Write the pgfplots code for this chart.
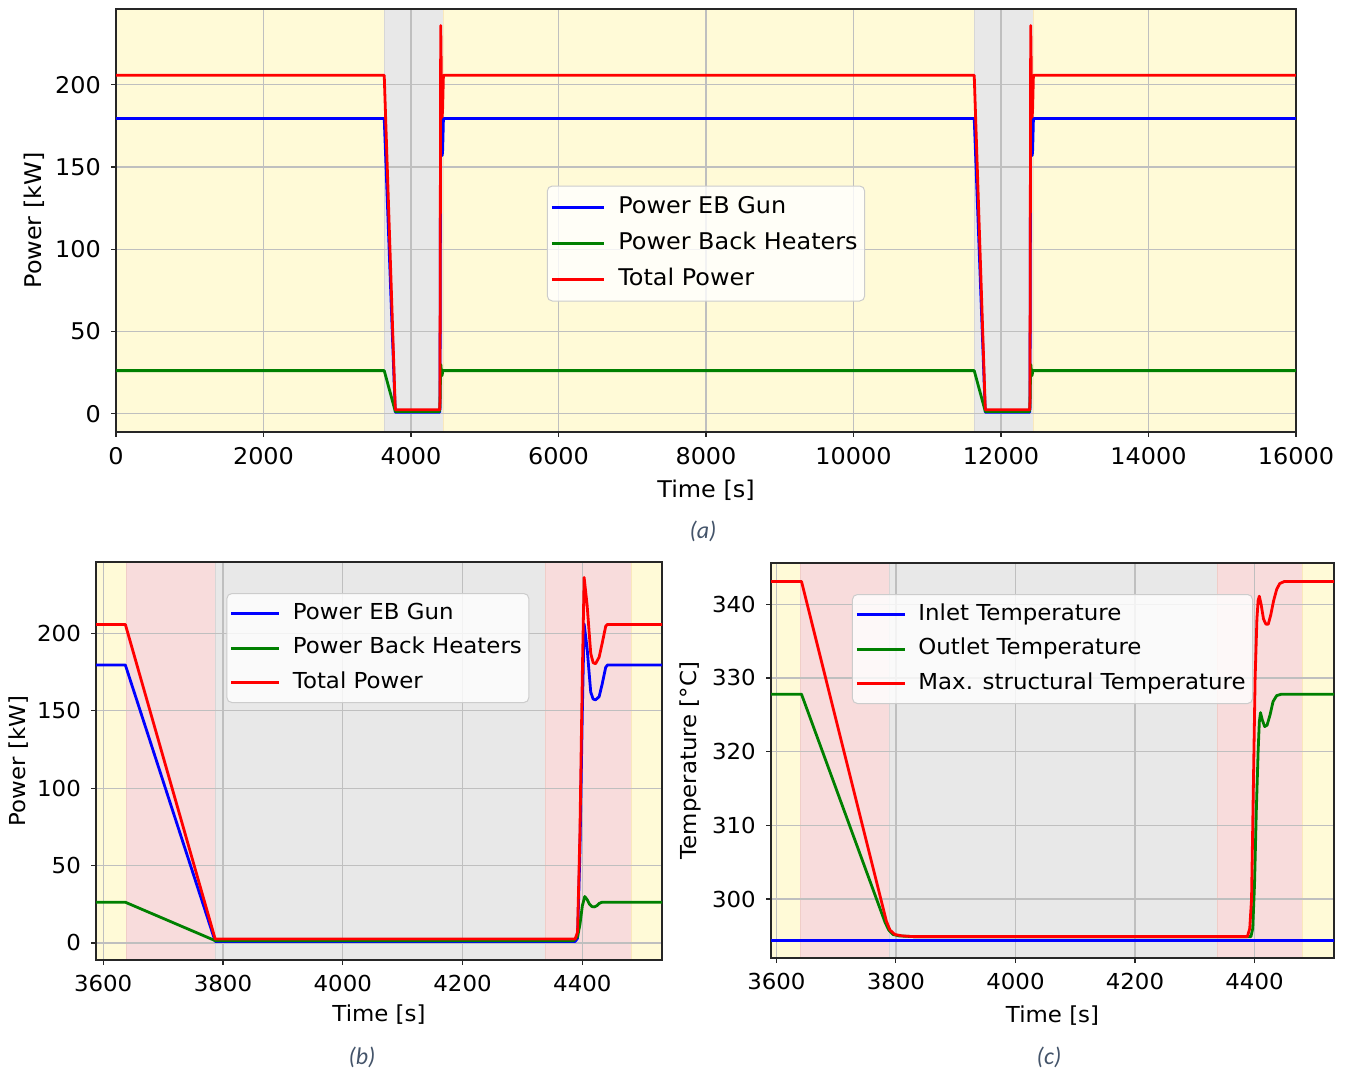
\documentclass[border=0pt]{standalone}
\usepackage{fontspec}
\setmainfont{DejaVu Sans}[FakeStretch=1.04]
\newfontfamily\capfont{Carlito}
\usepackage{pgfplots}
\usepackage{pgfplotstable}
\pgfplotsset{compat=1.18}

\definecolor{byel}{RGB}{255,250,215}
\definecolor{byeledge}{RGB}{250,232,188}
\definecolor{bred}{RGB}{248,220,220}
\definecolor{brededge}{RGB}{240,205,200}
\definecolor{bgry}{RGB}{232,232,232}
\definecolor{bgryedge}{RGB}{215,215,215}
\definecolor{mblue}{RGB}{0,0,255}
\definecolor{mgreen}{RGB}{0,128,0}
\definecolor{mred}{RGB}{255,0,0}
\definecolor{capc}{RGB}{68,84,106}

% ---------- power data (two cycles) ----------
\pgfplotstableread{
t P
0 179.5
3637 179.5
3787 1.0
4388 1.0
4392 3
4396 60
4400 150
4403 206
4408 190
4414 162
4418 157.5
4422 157
4428 159
4433 167
4439 178
4442 179.5
11637 179.5
11787 1.0
12388 1.0
12392 3
12396 60
12400 150
12403 206
12408 190
12414 162
12418 157.5
12422 157
12428 159
12433 167
12439 178
12442 179.5
16000 179.5
}\tblue
\pgfplotstableread{
t P
0 26.3
3637 26.3
3787 1.5
4385 1.5
4392 4
4396 12
4400 24
4404 30
4408 28
4412 25
4416 23.5
4420 23.3
4424 24
4428 25.5
4432 26.2
4436 26.3
11637 26.3
11787 1.5
12385 1.5
12392 4
12396 12
12400 24
12404 30
12408 28
12412 25
12416 23.5
12420 23.3
12424 24
12428 25.5
12432 26.2
12436 26.3
16000 26.3
}\tgreen
\pgfplotstableread{
t P
0 205.7
3637 205.7
3787 2.5
4388 2.5
4392 7
4396 72
4400 174
4403 236
4408 218
4414 187
4418 181
4422 180.3
4428 184.5
4433 193.3
4439 204.5
4442 205.7
11637 205.7
11787 2.5
12388 2.5
12392 7
12396 72
12400 174
12403 236
12408 218
12414 187
12418 181
12422 180.3
12428 184.5
12433 193.3
12439 204.5
12442 205.7
16000 205.7
}\tred

% ---------- temperature data ----------
\pgfplotstableread{
t T
3580 294.4
4540 294.4
}\tin
\pgfplotstableread{
t T
3580 327.8
3642 327.8
3782 296.8
3788 295.8
3795 295.2
3805 295.0
3830 294.9
4394 294.9
4397 296
4400 302
4403 312
4406 320
4408 324
4410 325.3
4413 324.3
4417 323.4
4421 323.6
4426 325
4431 326.8
4437 327.6
4445 327.8
4540 327.8
}\tout
\pgfplotstableread{
t T
3580 343.1
3642 343.1
3784 297
3790 295.8
3798 295.2
3810 295.0
3830 294.9
4388 294.9
4392 296
4395 300
4398 315
4401 330
4404 338
4406 340.5
4408 341.1
4411 340
4415 338
4419 337.3
4423 337.3
4427 338.5
4432 340.5
4437 342
4442 342.8
4450 343.1
4540 343.1
}\tmax

\pgfplotsset{
  myaxis/.style={
    scale only axis, set layers, clip mode=individual,
    anchor=south west,
    scaled ticks=false,
    axis line style={line width=1.2pt, black!85},
    tick align=outside, major tick length=5pt,
    tick style={line width=1.1pt, black!85},
    xtick pos=lower, ytick pos=left,
    grid=major, grid style={line width=1.2pt, color=black!25},
    tick label style={font=\fontsize{23}{27}\selectfont},
    label style={font=\fontsize{23}{27}\selectfont},
    /pgf/number format/assume math mode=true,
    /pgf/number format/1000 sep={},
    xticklabel style={inner sep=0pt, anchor=north, yshift=-10pt},
    yticklabel style={inner sep=0pt, anchor=east, xshift=-10pt},
    legend cell align=left,
    legend image code/.code={\draw[##1, line width=3pt] (0pt,0pt) -- (52pt,0pt);},
    legend style={font=\fontsize{23}{27}\selectfont, draw=black!20, line width=1pt,
      rounded corners=5pt, fill=white, fill opacity=0.8, text opacity=1,
      inner xsep=3pt, inner ysep=11pt, row sep=15pt, column sep=9pt,
      nodes={inner xsep=4pt, inner ysep=0pt, text height=16pt, text depth=5pt}},
  },
  smallaxis/.style={
    tick label style={font=\fontsize{22}{26}\selectfont},
    label style={font=\fontsize{22}{26}\selectfont},
    legend image code/.code={\draw[##1, line width=3pt] (0pt,0pt) -- (48pt,0pt);},
    legend style={font=\fontsize{22}{26}\selectfont, inner ysep=10pt, row sep=14.5pt,
      column sep=8pt,
      nodes={inner xsep=4pt, inner ysep=0pt, text height=15.5pt, text depth=4.5pt}},
  },
  pl/.style={line width=2.8pt, line join=round},
  band/.style 2 args={fill=#1, draw=#2, line width=1pt, forget plot, on layer=axis background},
}

\begin{document}
\begin{tikzpicture}

% ================= (a) =================
\begin{axis}[myaxis,
  at={(116pt,642pt)}, width=1180pt, height=423pt,
  xmin=0, xmax=16000, ymin=-11, ymax=246,
  xtick={0,2000,...,16000}, ytick={0,50,...,200},
  xlabel={Time [s]}, ylabel={Power [kW]},
  xlabel style={at={(rel axis cs:0.5,0)}, anchor=center, yshift=-58pt},
  ylabel style={at={(rel axis cs:0,0.5)}, anchor=center, yshift=82pt},
  legend style={at={(rel axis cs:0.5,0.4456)}, anchor=center},
]
\addplot[band={byel}{byeledge}] coordinates {(0,-11) (3640,-11) (3640,246) (0,246) (0,-11)};
\addplot[band={bgry}{bgryedge}] coordinates {(3640,-11) (4445,-11) (4445,246) (3640,246) (3640,-11)};
\addplot[band={byel}{byeledge}] coordinates {(4445,-11) (11640,-11) (11640,246) (4445,246) (4445,-11)};
\addplot[band={bgry}{bgryedge}] coordinates {(11640,-11) (12445,-11) (12445,246) (11640,246) (11640,-11)};
\addplot[band={byel}{byeledge}] coordinates {(12445,-11) (16000,-11) (16000,246) (12445,246) (12445,-11)};
\addplot[mblue, pl] table[x=t, y=P] {\tblue};
\addplot[mgreen, pl] table[x=t, y=P] {\tgreen};
\addplot[mred, pl] table[x=t, y=P] {\tred};
\legend{Power EB Gun, Power Back Heaters, Total Power}
\end{axis}

% ================= (b) =================
\begin{axis}[myaxis, smallaxis,
  at={(96pt,114pt)}, width=566pt, height=398pt,
  xmin=3588, xmax=4533, ymin=-11, ymax=246,
  xtick={3600,3800,...,4400}, ytick={0,50,...,200},
  xlabel={Time [s]}, ylabel={Power [kW]},
  xlabel style={at={(rel axis cs:0.5,0)}, anchor=center, yshift=-55pt},
  ylabel style={at={(rel axis cs:0,0.5)}, anchor=center, yshift=77pt},
  legend style={at={(rel axis cs:0.498,0.922)}, anchor=north},
]
\addplot[band={byel}{byeledge}] coordinates {(3588,-11) (3639,-11) (3639,246) (3588,246) (3588,-11)};
\addplot[band={bred}{brededge}] coordinates {(3639,-11) (3788,-11) (3788,246) (3639,246) (3639,-11)};
\addplot[band={bgry}{bgryedge}] coordinates {(3788,-11) (4338,-11) (4338,246) (3788,246) (3788,-11)};
\addplot[band={bred}{brededge}] coordinates {(4338,-11) (4482,-11) (4482,246) (4338,246) (4338,-11)};
\addplot[band={byel}{byeledge}] coordinates {(4482,-11) (4533,-11) (4533,246) (4482,246) (4482,-11)};
\addplot[mblue, pl] table[x=t, y=P] {\tblue};
\addplot[mgreen, pl] table[x=t, y=P] {\tgreen};
\addplot[mred, pl] table[x=t, y=P] {\tred};
\legend{Power EB Gun, Power Back Heaters, Total Power}
\end{axis}

% ================= (c) =================
\begin{axis}[myaxis, smallaxis,
  at={(771pt,116pt)}, width=563pt, height=395pt,
  xmin=3591, xmax=4533, ymin=292, ymax=345.6,
  xtick={3600,3800,...,4400}, ytick={300,310,...,340},
  xlabel={Time [s]}, ylabel={Temperature [°C]},
  xlabel style={at={(rel axis cs:0.5,0)}, anchor=center, yshift=-58pt},
  ylabel style={at={(rel axis cs:0,0.5)}, anchor=center, yshift=81pt},
  legend style={at={(rel axis cs:0.5,0.9215)}, anchor=north},
]
\addplot[band={byel}{byeledge}] coordinates {(3591,292) (3641,292) (3641,345.6) (3591,345.6) (3591,292)};
\addplot[band={bred}{brededge}] coordinates {(3641,292) (3790,292) (3790,345.6) (3641,345.6) (3641,292)};
\addplot[band={bgry}{bgryedge}] coordinates {(3790,292) (4338,292) (4338,345.6) (3790,345.6) (3790,292)};
\addplot[band={bred}{brededge}] coordinates {(4338,292) (4480,292) (4480,345.6) (4338,345.6) (4338,292)};
\addplot[band={byel}{byeledge}] coordinates {(4480,292) (4533,292) (4533,345.6) (4480,345.6) (4480,292)};
\addplot[mblue, pl] table[x=t, y=T] {\tin};
\addplot[mgreen, pl] table[x=t, y=T] {\tout};
\addplot[mred, pl] table[x=t, y=T] {\tmax};
\legend{Inlet Temperature, Outlet Temperature, Max. structural Temperature}
\end{axis}

% captions
\node[font=\capfont\itshape\fontsize{24}{28}\selectfont, text=capc] at (703pt,543pt) {(a)};
\node[font=\capfont\itshape\fontsize{24}{28}\selectfont, text=capc] at (362pt,17pt) {(b)};
\node[font=\capfont\itshape\fontsize{24}{28}\selectfont, text=capc] at (1049pt,17pt) {(c)};
\path (0,0) rectangle (1351pt,1074pt);
\end{tikzpicture}
\end{document}
